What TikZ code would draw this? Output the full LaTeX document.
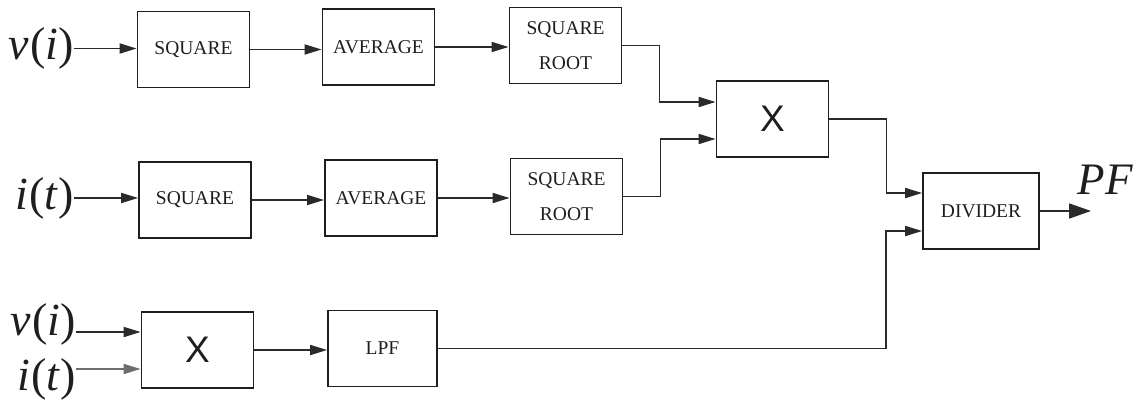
\documentclass[tikz,border=0pt]{standalone}
\usepackage{fontspec}
\setmainfont{Liberation Serif}
\newfontfamily\mulfont{Liberation Sans}
\usetikzlibrary{arrows.meta,positioning}
\definecolor{ink}{HTML}{1E1E1E}
\definecolor{wire}{HTML}{2A2A2A}
\definecolor{wiredim}{HTML}{6E6E6E}

\begin{document}
\begin{tikzpicture}[x=1pt,y=-1pt,>={Triangle[length=17pt,width=10pt]}]
 \tikzstyle{blk}=[rectangle,draw=ink,line width=1.8pt,minimum width=112pt,minimum height=76pt,align=center,inner sep=0pt,text=ink,font=\fontsize{19.5}{24}\selectfont]
 \tikzstyle{mulblk}=[blk,font=\mulfont\fontsize{37}{40}\selectfont]
 \tikzstyle{sig}=[inner sep=0pt,anchor=east,text=ink,font=\fontsize{46}{50}\selectfont]
 \tikzstyle{wireline}=[->,draw=wire,line width=1.8pt]
 \useasboundingbox (0,0) rectangle (1146,399);
 % rms of v
 \node[blk] (sq1) at (193.5,49.5) {SQUARE};
 \node[blk] (avg1) at (378.5,47) {AVERAGE};
 \node[blk] (sr1) at (565.5,45.5) {SQUARE\\[11pt]ROOT};
 % rms of i
 \node[blk] (sq2) at (195,200) {SQUARE};
 \node[blk] (avg2) at (381,198) {AVERAGE};
 \node[blk] (sr2) at (566.5,196.5) {SQUARE\\[11pt]ROOT};
 % product and ratio
 \node[mulblk] (mulA) at (772.5,119) {X};
 \node[blk,minimum width=116pt] (div) at (981,211) {DIVIDER};
 % real power
 \node[mulblk] (mulB) at (197.5,350) {X};
 \node[blk,minimum width=109pt] (lpf) at (382.5,348.5) {LPF};
 % inputs
 \node[sig] (vin1) at (74,48.5) {\textit{v}\kern1pt(\textit{i})};
 \node[sig] (iin2) at (74,198) {\textit{i}\kern1pt(\textit{t})};
 \node[sig] (vin3) at (76,324) {\textit{v}\kern1pt(\textit{i})};
 \node[sig] (iin3) at (76,379) {\textit{i}\kern1pt(\textit{t})};
 \node[inner sep=0pt,text=ink,font=\fontsize{45}{50}\selectfont\itshape] (pf) at (1105,180) {PF};
 \coordinate (pfend) at (1091,213);
 \coordinate (ma1) at ([yshift=17pt]mulA.west);
 \coordinate (ma2) at ([yshift=-20pt]mulA.west);
 \coordinate (dv1) at ([yshift=18pt]div.west);
 \coordinate (dv2) at ([yshift=-20pt]div.west);
 \coordinate (mb1) at ([yshift=18pt]mulB.west);
 \coordinate (mb2) at ([yshift=-19pt]mulB.west);
 % connectors
 \draw[wireline] (vin1.east) -- (vin1.east -| sq1.west);
 \draw[wireline] (sq1.east) -- (sq1.east -| avg1.west);
 \draw[wireline] (avg1.east) -- (avg1.east -| sr1.west);
 \draw[wireline] (iin2.east) -- (iin2.east -| sq2.west);
 \draw[wireline] (sq2.east) -- (sq2.east -| avg2.west);
 \draw[wireline] (avg2.east) -- (avg2.east -| sr2.west);
 \draw[wireline] (sr1.east) -- ++(37,0) |- (ma1);
 \draw[wireline] (sr2.east) -- ++(37,0) |- (ma2);
 \draw[wireline] (mulA.east) -- ++(57,0) |- (dv1);
 \draw[wireline] (vin3.east |- mb1) -- (mb1);
 \draw[wireline,draw=wiredim] (iin3.east |- mb2) -- (mb2);
 \draw[wireline] (mulB.east) -- (mulB.east -| lpf.west);
 \draw[wireline] (lpf.east) -| ([xshift=-36pt]dv2) -- (dv2);
 \draw[wireline,>={Triangle[length=22pt,width=15pt]}] (div.east) -- (div.east -| pfend);
\end{tikzpicture}
\end{document}
